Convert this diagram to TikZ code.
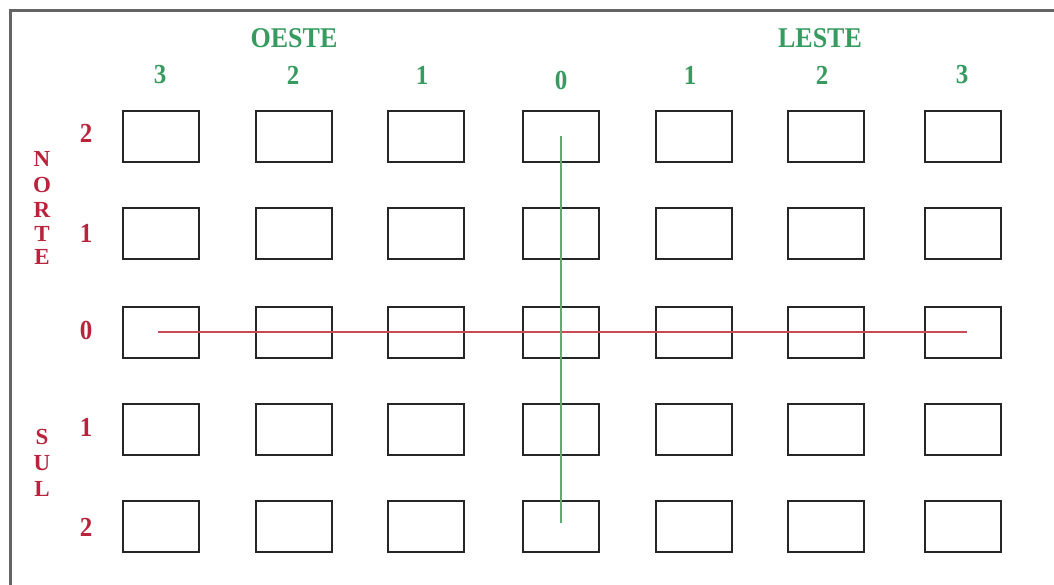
\documentclass[tikz,border=0pt]{standalone}
\usepackage{fontspec}
\setmainfont{Liberation Serif}[BoldFont={Liberation Serif Bold}]
\definecolor{lgreen}{RGB}{55,155,95}
\definecolor{lred}{RGB}{185,35,60}
\definecolor{redline}{RGB}{200,75,85}
\definecolor{greenline}{RGB}{95,170,115}
\definecolor{frame}{RGB}{100,100,100}
\begin{document}
\begin{tikzpicture}[x=1pt,y=-1pt,
  cell/.style={draw=black!85, line width=2pt, minimum width=76pt, minimum height=51pt, inner sep=0pt},
  collab/.style={text=lgreen, font=\fontsize{25}{25}\selectfont\bfseries, inner sep=0pt, yscale=1.1},
  title/.style={text=lgreen, font=\fontsize{26}{26}\selectfont\bfseries, inner sep=0pt, yscale=1.1},
  rowlab/.style={text=lred, font=\fontsize{25}{25}\selectfont\bfseries, inner sep=0pt, yscale=1.1},
  vlet/.style={text=lred, font=\fontsize{23}{23}\selectfont\bfseries, inner sep=0pt}]
\useasboundingbox (0,0) rectangle (1054,585);
\fill[white] (0,0) rectangle (1054,585);
\draw[frame, line width=3pt] (10.5,585) -- (10.5,10.5) -- (1054,10.5);
% boxes
\foreach \c/\x in {1/161,2/293.5,3/426,4/561,5/694,6/826,7/963}{
  \foreach \r/\y in {1/136.5,2/233.5,3/332,4/429.5,5/526.5}{
    \node[cell] (b\c\r) at (\x,\y) {};
  }
}
% column labels
\node[title] (oeste) at (294,38) {OESTE};
\node[title] (leste) at (820,38) {LESTE};
\node[collab] (c1) at (160,75) {3};
\node[collab] (c2) at (293,75) {2};
\node[collab] (c3) at (422,75) {1};
\node[collab] (c4) at (561,80) {0};
\node[collab] (c5) at (690,75) {1};
\node[collab] (c6) at (822,75) {2};
\node[collab] (c7) at (962,75) {3};
% row labels
\node[rowlab] (r1) at (86,133) {2};
\node[rowlab] (r2) at (86,233) {1};
\node[rowlab] (r3) at (86,330) {0};
\node[rowlab] (r4) at (86,427) {1};
\node[rowlab] (r5) at (86,527) {2};
% NORTE / SUL
\node[vlet] (n1) at (42,159) {N};
\node[vlet] (n2) at (42,185) {O};
\node[vlet] (n3) at (42,210) {R};
\node[vlet] (n4) at (42,234) {T};
\node[vlet] (n5) at (42,257) {E};
\node[vlet] (s1) at (42,437) {S};
\node[vlet] (s2) at (42,463) {U};
\node[vlet] (s3) at (42,489) {L};
% axes
\draw[redline, line width=1.6pt] ([xshift=-3pt]b13.center) -- ([xshift=4pt]b73.center);
\draw[greenline, line width=1.6pt] (b41.center) -- ([yshift=4pt]b45.center);
\end{tikzpicture}
\end{document}
